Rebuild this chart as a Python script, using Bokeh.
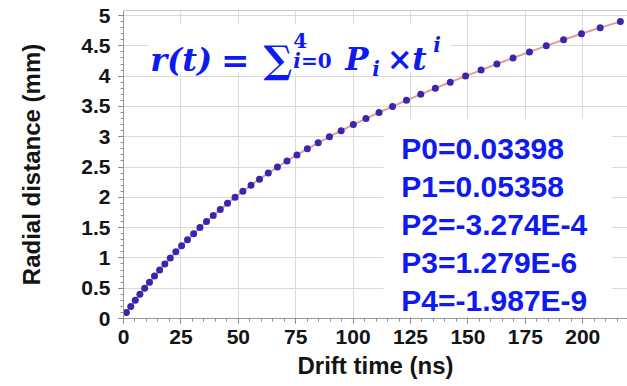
from bokeh.plotting import figure
from bokeh.models import (Range1d, SingleIntervalTicker, NumeralTickFormatter,
                          Label, BoxAnnotation, Span)
from bokeh.embed import file_html
from bokeh.resources import INLINE

# ---- data ----
drift_time_ns = [1.25, 3.16, 5.13, 7.14, 9.2, 11.32, 13.49, 15.72, 18.01, 20.37,
                 22.80, 25.30, 27.88, 30.55, 33.30, 36.15, 39.09, 42.14, 45.31, 48.59,
                 51.99, 55.54, 59.22, 63.05, 67.05, 71.21, 75.55, 80.07, 84.78, 89.69,
                 94.79, 100.09, 105.59, 111.29, 117.17, 123.23, 129.45, 135.81, 142.32, 148.98,
                 155.73, 162.62, 169.65, 176.81, 184.13, 191.66, 199.46, 207.6, 216.4]
radial_mm = [0.1, 0.2, 0.3, 0.4, 0.5, 0.6, 0.7, 0.8, 0.9, 1.0,
             1.1, 1.2, 1.3, 1.4, 1.5, 1.6, 1.7, 1.8, 1.9, 2.0,
             2.1, 2.2, 2.3, 2.4, 2.5, 2.6, 2.7, 2.8, 2.9, 3.0,
             3.1, 3.2, 3.3, 3.4, 3.5, 3.6, 3.7, 3.8, 3.9, 4.0,
             4.1, 4.2, 4.3, 4.4, 4.5, 4.6, 4.7, 4.8, 4.9]
fit_params = ["P0=0.03398", "P1=0.05358", "P2=-3.274E-4", "P3=1.279E-6", "P4=-1.987E-9"]
x_title = "Drift time (ns)"
y_title = "Radial distance (mm)"

X_END = 219.5
Y_END = 5.083
BLUE = "#0d1af2"
AX_GRAY = "#9a9a9a"

p = figure(width=627, height=386, output_backend="svg", toolbar_location=None,
           x_range=Range1d(0, X_END), y_range=Range1d(0, Y_END),
           min_border_left=123, min_border_right=0, min_border_top=10, min_border_bottom=68)
p.background_fill_color = "white"
p.border_fill_color = "white"
p.outline_line_color = None

xt = SingleIntervalTicker(interval=25, num_minor_ticks=5)
yt = SingleIntervalTicker(interval=0.5, num_minor_ticks=5)
p.xaxis.ticker = xt
p.yaxis.ticker = yt
p.xgrid.ticker = xt
p.ygrid.ticker = yt
p.yaxis.formatter = NumeralTickFormatter(format="0.[0]")
p.xaxis.axis_label = x_title
p.yaxis.axis_label = y_title

for ax in (p.xaxis[0], p.yaxis[0]):
    ax.axis_line_color = AX_GRAY
    ax.major_tick_line_color = "#707070"
    ax.minor_tick_line_color = "#909090"
    ax.major_tick_out = 5
    ax.major_tick_in = 0
    ax.minor_tick_out = 3
    ax.minor_tick_in = 0
    ax.major_label_text_font = "Liberation Sans"
    ax.major_label_text_font_size = "21px"
    ax.major_label_text_font_style = "bold"
    ax.major_label_text_color = "#141414"
    ax.axis_label_text_font = "Liberation Sans"
    ax.axis_label_text_font_size = "24px"
    ax.axis_label_text_font_style = "bold"
    ax.axis_label_text_color = "#141414"

p.xaxis.major_label_standoff = 6
p.xaxis.axis_label_standoff = 5
p.yaxis.major_label_standoff = 8
p.yaxis.axis_label_standoff = 33

# reference grid is a fine dotted gray; drawn here as a light solid line
p.xgrid.grid_line_color = "#d9d9d9"
p.ygrid.grid_line_color = "#d9d9d9"
p.xgrid.grid_line_width = 1
p.ygrid.grid_line_width = 1

p.add_layout(Span(location=Y_END, dimension="width", line_color=AX_GRAY, line_width=1))

# fit curve and points
p.line(drift_time_ns, radial_mm, line_color="#e39a9a", line_width=2)
p.scatter(drift_time_ns, radial_mm, size=7, fill_color="#3b24b0", line_color=None)

# white boxes behind the texts
p.add_layout(BoxAnnotation(left=10.8, right=142.4, top=4.868, bottom=4.058,
                           fill_color="white", fill_alpha=1.0, line_color=None))
p.add_layout(BoxAnnotation(left=113.2, right=212.9, top=3.30, bottom=0.03,
                           fill_color="white", fill_alpha=1.0, line_color=None))

# formula r(t) = sum_{i=0}^4 P_i x t^i
SERIF = "DejaVu Serif"
formula_parts = [
    ("r(t)", 11.63, 4.273, "32px", "bold italic"),
    ("=", 42.5, 4.273, "34px", "bold"),
    ("\u2211", 61.0, 4.273, "38px", "bold"),
    ("4", 73.94, 4.587, "20px", "bold"),
    ("i", 73.94, 4.257, "20px", "bold italic"),
    ("=0", 77.3, 4.257, "20px", "bold"),
    ("P", 96.60, 4.290, "31px", "bold italic"),
    ("i", 108.37, 4.125, "20px", "bold italic"),
    ("\u00d7", 114.6, 4.290, "31px", "bold"),
    ("t", 125.80, 4.290, "31px", "bold italic"),
    ("i", 134.95, 4.521, "20px", "bold italic"),
]
for txt, fx, fy, fs, st in formula_parts:
    p.add_layout(Label(x=fx, y=fy, text=txt, text_font=SERIF, text_font_size=fs,
                       text_font_style=st, text_color=BLUE,
                       text_align="left", text_baseline="alphabetic"))

# fit parameters
for k, txt in enumerate(fit_params):
    p.add_layout(Label(x=121.0, y=2.803 - k * 0.6277, text=txt,
                       text_font="Liberation Sans", text_font_size="30px",
                       text_font_style="bold", text_color=BLUE,
                       text_align="left", text_baseline="alphabetic"))

open("out.html", "w").write(file_html(p, INLINE))
